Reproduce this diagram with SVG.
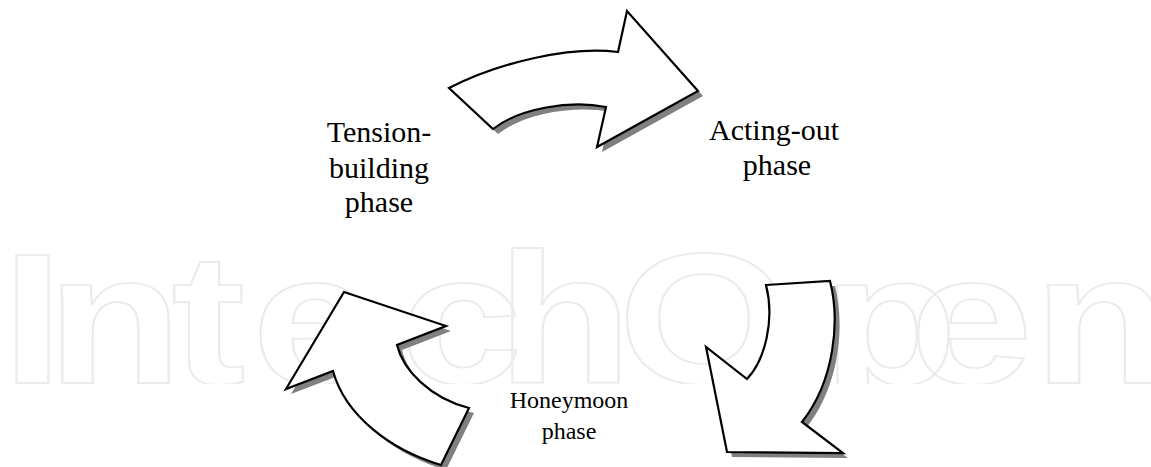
<svg xmlns="http://www.w3.org/2000/svg" width="1151" height="467" viewBox="0 0 1151 467">
<defs>
<style>
.wm{font-family:"Liberation Sans",Arial,sans-serif;font-weight:bold;font-size:185px;fill:none;stroke:#e8ecec;stroke-width:1.8}
.lbl{font-family:"Liberation Serif","Times New Roman",serif;fill:#000;text-anchor:middle}
.arrow{fill:#fff;stroke:#000;stroke-width:2.2;stroke-linejoin:miter}
.shadow{fill:#808080;stroke:none}
</style>
<clipPath id="wmclip"><rect x="0" y="230" width="1151" height="154"/></clipPath>
<path id="a1" d="M449,88 C500,62 570,46 618,52 L627,11 L698,91 L597,147 L606,107 C570,100 520,108 493,129 Z"/>
<path id="a2" d="M344,292 L446,326 L397,345 C403,370 430,398 469,408 L441,465 C390,450 345,415 333,371 L286,389 Z"/>
<path id="a3" d="M766,285 L830,281 C840,320 835,380 802,422 L843,453 L727,452 L706,347 L747,379 C765,360 775,320 766,285 Z"/>
</defs>
<rect width="1151" height="467" fill="#fff"/>
<g clip-path="url(#wmclip)">
<g transform="scale(1.2,1)">
<text class="wm" x="1.25 39 143 210 332.5 414 515 685 758 861" y="383">IntechOpen</text>
</g>
</g>
<g id="connectors">
<g id="arrow-top">
<use href="#a1" class="shadow" transform="translate(5,5)"/>
<use href="#a1" class="arrow"/>
</g>
<g id="arrow-right">
<use href="#a3" class="shadow" transform="translate(5,5)"/>
<use href="#a3" class="arrow"/>
</g>
<g id="arrow-left">
<use href="#a2" class="shadow" transform="translate(5,5)"/>
<use href="#a2" class="arrow"/>
</g>
</g>
<g id="node-tension">
<text class="lbl" font-size="30" x="379" y="142">Tension-</text>
<text class="lbl" font-size="30" x="379" y="178">building</text>
<text class="lbl" font-size="30" x="379" y="212">phase</text>
</g>
<g id="node-acting">
<text class="lbl" font-size="30" x="774" y="140">Acting-out</text>
<text class="lbl" font-size="30" x="777" y="175">phase</text>
</g>
<g id="node-honeymoon">
<text class="lbl" font-size="24" x="569" y="408">Honeymoon</text>
<text class="lbl" font-size="24" x="569" y="439">phase</text>
</g>
</svg>
